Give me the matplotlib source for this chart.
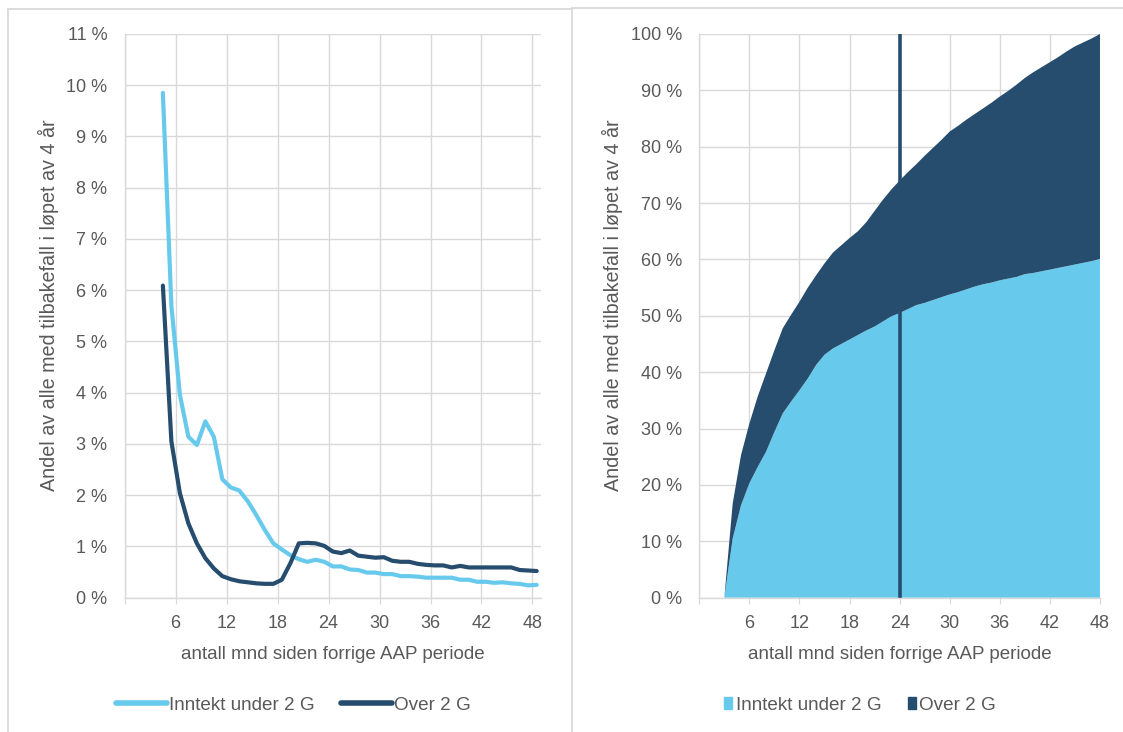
import numpy as np
import matplotlib
matplotlib.use("Agg")
import matplotlib.pyplot as plt
from matplotlib.lines import Line2D
from matplotlib.patches import Patch

plt.rcParams["font.family"] = ["Liberation Sans", "DejaVu Sans"]

# Left panel: monthly share (%) with relapse, by months since previous AAP period
months_left = np.arange(4, 49)
under_2g = [9.85, 5.7, 3.96, 3.14, 2.98, 3.44, 3.14, 2.31, 2.15, 2.09, 1.88, 1.61,
            1.32, 1.06, 0.94, 0.83, 0.75, 0.70, 0.74, 0.70, 0.61, 0.61, 0.55, 0.54,
            0.49, 0.49, 0.46, 0.46, 0.42, 0.42, 0.41, 0.39, 0.39, 0.39, 0.39, 0.35,
            0.35, 0.31, 0.31, 0.29, 0.30, 0.28, 0.27, 0.24, 0.25]
over_2g = [6.09, 3.05, 2.04, 1.45, 1.06, 0.77, 0.57, 0.42, 0.36, 0.32, 0.30, 0.28,
           0.27, 0.27, 0.35, 0.67, 1.06, 1.07, 1.06, 1.01, 0.90, 0.87, 0.92, 0.82,
           0.80, 0.78, 0.79, 0.72, 0.70, 0.70, 0.66, 0.64, 0.63, 0.63, 0.59, 0.62,
           0.59, 0.59, 0.59, 0.59, 0.59, 0.59, 0.54, 0.53, 0.52]

# Right panel: cumulative share (%), stacked
months_right = np.arange(3, 49)
cum_under_2g = [0, 10.5, 16.4, 20.3, 23.2, 25.9, 29.4, 32.7, 34.8, 36.8, 38.9, 41.3,
                43.1, 44.2, 45.0, 45.8, 46.6, 47.4, 48.1, 49.0, 49.9, 50.5, 51.2, 51.9,
                52.3, 52.8, 53.3, 53.8, 54.2, 54.7, 55.2, 55.6, 55.9, 56.3, 56.6, 56.9,
                57.4, 57.6, 57.9, 58.2, 58.5, 58.8, 59.1, 59.4, 59.7, 60.1]
cum_over_2g = [0, 6.2, 8.9, 10.6, 12.5, 13.9, 14.5, 15.1, 15.4, 15.7, 16.1, 15.9,
               16.2, 17.0, 17.5, 18.0, 18.4, 19.2, 20.5, 21.6, 22.5, 23.5, 24.3, 25.0,
               26.1, 27.0, 27.9, 28.9, 29.5, 30.1, 30.6, 31.2, 31.9, 32.6, 33.3, 34.1,
               34.8, 35.6, 36.2, 36.8, 37.4, 38.1, 38.7, 39.1, 39.5, 39.9]
marker_month = 24

labels = ["Inntekt under 2 G", "Over 2 G"]
x_ticks = list(range(0, 49, 6))
x_ticklabels = [""] + [str(t) for t in x_ticks[1:]]
xlabel = "antall mnd siden forrige AAP periode"
ylabel = "Andel av alle med tilbakefall i løpet av 4 år"

LIGHT = "#67CAEC"
DARK = "#264D6E"
GRID = "#d9d9d9"
TEXT = "#595959"
FS_TICK = 13.0
FS_XLAB = 13.5
FS_YLAB = 14.2
FS_LEG = 13.6

fig = plt.figure(figsize=(11.23, 7.32), dpi=100)
ax1 = fig.add_axes([0.1110, 0.1835, 0.3707, 0.7701])
ax2 = fig.add_axes([0.6227, 0.1835, 0.3568, 0.7701])


def style(ax, yticks, ylabels):
    ax.set_xticks(x_ticks)
    ax.set_xticklabels(x_ticklabels)
    ax.set_yticks(yticks)
    ax.set_yticklabels(ylabels)
    ax.grid(True, color=GRID, linewidth=1.0)
    ax.set_axisbelow(True)
    for s in ["top", "right"]:
        ax.spines[s].set_visible(False)
    for s in ["left", "bottom"]:
        ax.spines[s].set_color(GRID)
        ax.spines[s].set_linewidth(1.0)
    ax.tick_params(axis="x", length=4, color=GRID, labelsize=FS_TICK, labelcolor=TEXT, pad=8.5)
    ax.tick_params(axis="y", length=0, labelsize=FS_TICK, labelcolor=TEXT, pad=12.5)
    ax.set_xlabel(xlabel, fontsize=FS_XLAB, color=TEXT, labelpad=10)


# left: monthly lines (Excel category axis -> points sit mid-category)
ax1.plot(months_left + 0.5, under_2g, color=LIGHT, lw=3.0,
         solid_capstyle="round", solid_joinstyle="round", label=labels[0])
ax1.plot(months_left + 0.5, over_2g, color=DARK, lw=3.0,
         solid_capstyle="round", solid_joinstyle="round", label=labels[1])
ax1.set_xlim(0, 49)
ax1.set_ylim(0, 11)
style(ax1, range(0, 12), [f"{v} %" for v in range(0, 12)])

# right: cumulative stacked area
ax2.stackplot(months_right, cum_under_2g, cum_over_2g, colors=[LIGHT, DARK],
              linewidth=0)
ax2.axvline(marker_month, color=DARK, lw=2.6)
ax2.set_xlim(0, 48)
ax2.set_ylim(0, 100)
style(ax2, range(0, 101, 10), [f"{v} %" for v in range(0, 101, 10)])

for x in (48 / 1123, 612 / 1123):
    fig.text(x, (732 - 305) / 732, ylabel, rotation=90, ha="center", va="center",
             fontsize=FS_YLAB, color=TEXT)

# legends
h1 = [Line2D([], [], color=LIGHT, lw=4, solid_capstyle="round"),
      Line2D([], [], color=DARK, lw=4, solid_capstyle="round")]
fig.legend(h1, labels, loc="center", bbox_to_anchor=(293 / 1123, (732 - 705) / 732),
           ncol=2, frameon=False, fontsize=FS_LEG, labelcolor=TEXT, handlelength=2.7,
           handletextpad=0.1, columnspacing=1.4)
h2 = [Patch(color=LIGHT), Patch(color=DARK)]
fig.legend(h2, labels, loc="center", bbox_to_anchor=(860 / 1123, (732 - 705) / 732),
           ncol=2, frameon=False, fontsize=FS_LEG, labelcolor=TEXT, handlelength=0.42,
           handleheight=0.6, handletextpad=0.2, columnspacing=1.4)

# panel frames
def fline(x0, y0, x1, y1):
    fig.add_artist(Line2D([x0 / 1123, x1 / 1123], [1 - y0 / 732, 1 - y1 / 732],
                          color=GRID, lw=1.3, transform=fig.transFigure))

fline(8, 9, 572, 9)
fline(8, 9, 8, 732)
fline(572, 8, 572, 732)
fline(572, 8, 1123, 8)

fig.savefig("out.png", dpi=100)
